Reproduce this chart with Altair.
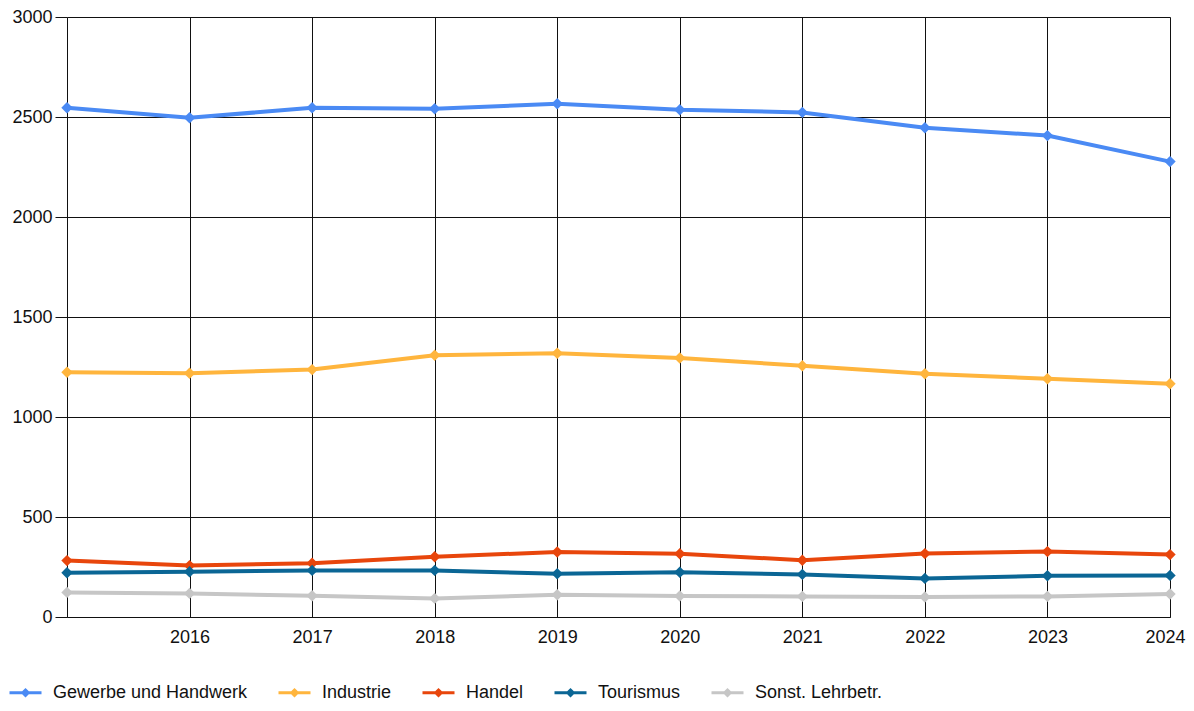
import altair as alt
import pandas as pd

years = [2015, 2016, 2017, 2018, 2019, 2020, 2021, 2022, 2023, 2024]
series_names = ["Gewerbe und Handwerk", "Industrie", "Handel", "Tourismus", "Sonst. Lehrbetr."]
colors = ["#4a8af4", "#ffb53d", "#e8460c", "#0b6695", "#c6c6c6"]

gewerbe = [2546, 2496, 2546, 2541, 2566, 2536, 2523, 2446, 2407, 2277]
industrie = [1224, 1219, 1237, 1309, 1319, 1295, 1256, 1216, 1191, 1166]
handel = [282, 257, 269, 301, 325, 316, 284, 317, 327, 312]
tourismus = [221, 226, 233, 233, 216, 224, 213, 193, 206, 208]
sonst = [123, 118, 106, 93, 111, 105, 103, 100, 103, 115]

values = [gewerbe, industrie, handel, tourismus, sonst]
rows = []
for name, vals in zip(series_names, values):
    for y, v in zip(years, vals):
        rows.append({"Jahr": y, "Wert": v, "Serie": name})
df = pd.DataFrame(rows)

FONT = "Liberation Sans"

chart = alt.Chart(df).mark_line(
    strokeWidth=4,
    point=alt.OverlayMarkDef(filled=True, shape="diamond", size=130),
).encode(
    x=alt.X("Jahr:Q",
            scale=alt.Scale(domain=[2015, 2024], nice=False, zero=False),
            axis=alt.Axis(values=years, title=None, grid=True, gridColor="#111111",
                          gridWidth=1, ticks=False, tickSize=0, domain=True,
                          domainColor="#111111", labelPadding=11, labelFontSize=18,
                          labelFont=FONT, labelColor="#111111",
                          labelExpr="datum.value == 2015 ? '' : datum.value",
                          labelFlush=True, labelFlushOffset=15)),
    y=alt.Y("Wert:Q",
            scale=alt.Scale(domain=[0, 3000], nice=False),
            axis=alt.Axis(values=[0, 500, 1000, 1500, 2000, 2500, 3000], title=None,
                          grid=True, gridColor="#111111", gridWidth=1, ticks=True,
                          tickSize=12, tickColor="#111111", domain=False,
                          labelPadding=3, labelFontSize=18, labelFont=FONT,
                          labelColor="#111111", format="d")),
    color=alt.Color("Serie:N",
                    scale=alt.Scale(domain=series_names, range=colors),
                    sort=series_names,
                    legend=alt.Legend(title=None, orient="none", direction="horizontal",
                                      columns=5, legendX=-59, legendY=658,
                                      symbolType="M-1,0L1,0M0,-0.17L0.17,0L0,0.17L-0.17,0Z",
                                      symbolSize=1024, symbolStrokeWidth=3,
                                      labelFontSize=18, labelFont=FONT, labelLimit=0,
                                      labelColor="#111111", labelOffset=10,
                                      columnPadding=24, padding=0)),
).properties(
    width=1103,
    height=600,
    autosize=alt.AutoSizeParams(type="none"),
    padding={"left": 59, "top": 9, "right": 16, "bottom": 86},
).configure_view(stroke=None).configure(font=FONT)

chart.save("out.html", embed_options={"renderer": "svg", "actions": False})
